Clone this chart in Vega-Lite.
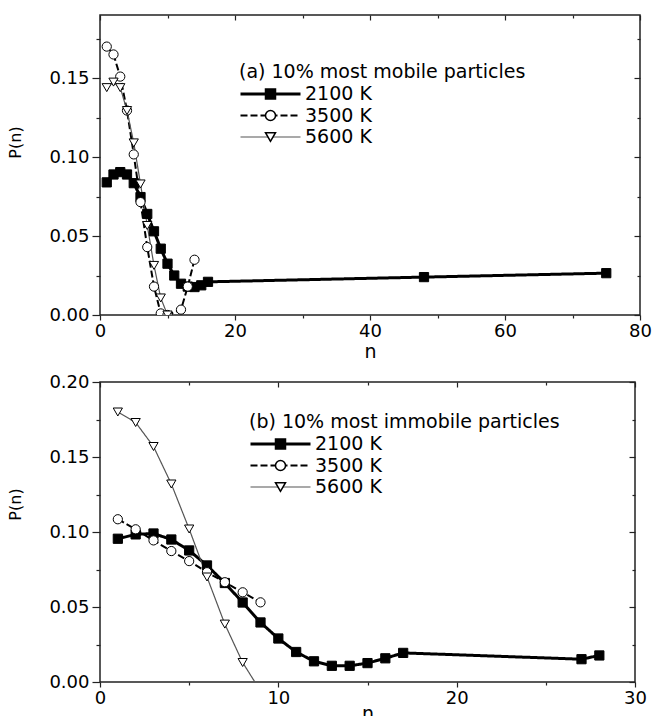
{
  "$schema": "https://vega.github.io/schema/vega-lite/v6.json",
  "padding": {"left": 6, "top": 13, "right": 5, "bottom": 0},
  "background": "white",
  "spacing": 10,
  "config": {
    "view": {"stroke": "#222", "strokeWidth": 1.5},
    "axis": {"labelFont": "DejaVu Sans", "labelFontSize": 18, "labelColor": "black", "tickColor": "#222", "tickWidth": 1.2, "grid": false, "domain": false, "labelFlush": false, "labelOverlap": false, "titleFont": "DejaVu Sans", "titleFontWeight": "normal", "titleColor": "black"},
    "legend": {"labelFont": "DejaVu Sans", "labelFontSize": 19, "labelColor": "black", "titleFont": "DejaVu Sans", "titleFontSize": 19, "titleFontWeight": "normal", "titleColor": "black", "titleLimit": 1000, "labelLimit": 1000, "padding": 0, "titlePadding": 2, "clipHeight": 20, "rowPadding": 1.5}
  },
  "resolve": {
    "scale": {"color": "independent", "fill": "independent", "shape": "independent", "strokeDash": "independent", "strokeWidth": "independent"},
    "legend": {"color": "independent", "fill": "independent", "shape": "independent", "strokeDash": "independent", "strokeWidth": "independent"}
  },
  "vconcat": [
    {
      "width": 540,
      "height": 300,
      "data": {"values": [
        {"n": 1, "P": 0.084, "T": "2100 K"}, {"n": 2, "P": 0.089, "T": "2100 K"}, {"n": 3, "P": 0.0905, "T": "2100 K"}, {"n": 4, "P": 0.089, "T": "2100 K"}, {"n": 5, "P": 0.0835, "T": "2100 K"}, {"n": 6, "P": 0.0747, "T": "2100 K"}, {"n": 7, "P": 0.064, "T": "2100 K"}, {"n": 8, "P": 0.053, "T": "2100 K"}, {"n": 9, "P": 0.042, "T": "2100 K"}, {"n": 10, "P": 0.0325, "T": "2100 K"}, {"n": 11, "P": 0.025, "T": "2100 K"}, {"n": 12, "P": 0.0198, "T": "2100 K"}, {"n": 13, "P": 0.018, "T": "2100 K"}, {"n": 14, "P": 0.0177, "T": "2100 K"}, {"n": 15, "P": 0.0188, "T": "2100 K"}, {"n": 16, "P": 0.021, "T": "2100 K"}, {"n": 48, "P": 0.024, "T": "2100 K"}, {"n": 75, "P": 0.0265, "T": "2100 K"},
        {"n": 1, "P": 0.170, "T": "3500 K"}, {"n": 2, "P": 0.165, "T": "3500 K"}, {"n": 3, "P": 0.151, "T": "3500 K"}, {"n": 4, "P": 0.1295, "T": "3500 K"}, {"n": 5, "P": 0.1017, "T": "3500 K"}, {"n": 6, "P": 0.0715, "T": "3500 K"}, {"n": 7, "P": 0.043, "T": "3500 K"}, {"n": 8, "P": 0.018, "T": "3500 K"}, {"n": 9, "P": 0.001, "T": "3500 K"}, {"n": 10, "P": 0.0, "T": "3500 K"}, {"n": 12, "P": 0.0034, "T": "3500 K"}, {"n": 13, "P": 0.018, "T": "3500 K"}, {"n": 14, "P": 0.035, "T": "3500 K"},
        {"n": 1, "P": 0.144, "T": "5600 K"}, {"n": 2, "P": 0.1475, "T": "5600 K"}, {"n": 3, "P": 0.144, "T": "5600 K"}, {"n": 4, "P": 0.1295, "T": "5600 K"}, {"n": 5, "P": 0.109, "T": "5600 K"}, {"n": 6, "P": 0.083, "T": "5600 K"}, {"n": 7, "P": 0.0567, "T": "5600 K"}, {"n": 8, "P": 0.0314, "T": "5600 K"}, {"n": 9, "P": 0.0108, "T": "5600 K"}, {"n": 10, "P": 0.0, "T": "5600 K"}
      ]},
      "layer": [
        {
          "mark": {"type": "line", "clip": true},
          "encoding": {
            "x": {"field": "n", "type": "quantitative", "scale": {"domain": [0, 80], "nice": false, "zero": false},
              "axis": {"orient": "bottom", "values": [0, 10, 20, 30, 40, 50, 60, 70, 80], "labelExpr": "datum.value % 20 === 0 ? datum.label : ''", "tickSize": {"condition": {"test": "datum.value % 20 === 0", "value": 5}, "value": 3}, "labelPadding": 2, "title": "n", "titleFontSize": 19, "titlePadding": 2}},
            "y": {"field": "P", "type": "quantitative", "scale": {"domain": [0, 0.19], "nice": false},
              "axis": {"orient": "left", "values": [0, 0.025, 0.05, 0.075, 0.1, 0.125, 0.15, 0.175], "labelExpr": "round(datum.value*1000) % 50 === 0 ? format(datum.value, '.2f') : ''", "tickSize": {"condition": {"test": "round(datum.value*1000) % 50 === 0", "value": 8}, "value": 4}, "labelPadding": 3, "title": "P(n)", "titleFontSize": 16, "titleX": -77, "titleY": 127}},
            "color": {"field": "T", "type": "nominal", "scale": {"range": ["#000000", "#000000", "#555555"]},
              "legend": {"title": "(a) 10% most mobile particles", "orient": "none", "legendX": 139, "legendY": 48, "symbolType": "stroke", "symbolSize": 3600, "labelOffset": 3}},
            "strokeWidth": {"field": "T", "type": "nominal", "scale": {"type": "ordinal", "range": [3, 2, 1.2]},
              "legend": {"title": "(a) 10% most mobile particles", "orient": "none", "legendX": 139, "legendY": 48, "symbolType": "stroke", "symbolSize": 3600, "labelOffset": 3}},
            "strokeDash": {"field": "T", "type": "nominal", "scale": {"range": [[1, 0], [7, 3], [1, 0]]},
              "legend": {"title": "(a) 10% most mobile particles", "orient": "none", "legendX": 139, "legendY": 48, "symbolType": "stroke", "symbolSize": 3600, "labelOffset": 3}}
          }
        },
        {
          "mark": {"type": "point", "filled": true, "stroke": "black", "strokeWidth": 1, "opacity": 1, "size": 85, "clip": true},
          "encoding": {
            "x": {"field": "n", "type": "quantitative",
              "axis": {"orient": "top", "values": [0, 10, 20, 30, 40, 50, 60, 70, 80], "labels": false, "title": null, "tickSize": {"condition": {"test": "datum.value % 20 === 0", "value": -5}, "value": -3}}},
            "y": {"field": "P", "type": "quantitative",
              "axis": {"orient": "right", "values": [0, 0.025, 0.05, 0.075, 0.1, 0.125, 0.15, 0.175], "labels": false, "title": null, "tickSize": {"condition": {"test": "round(datum.value*1000) % 50 === 0", "value": -6}, "value": -3}}},
            "shape": {"field": "T", "type": "nominal", "scale": {"domain": ["2100 K", "3500 K", "5600 K"], "range": ["square", "circle", "triangle-down"]},
              "legend": {"title": null, "orient": "none", "legendX": 161, "legendY": 69, "symbolSize": 100, "labelExpr": "''", "labelOffset": 3, "encode": {"symbols": {"update": {"stroke": {"value": "black"}, "strokeWidth": {"value": 1}, "opacity": {"value": 1}}}}}},
            "fill": {"field": "T", "type": "nominal", "scale": {"domain": ["2100 K", "3500 K", "5600 K"], "range": ["#000000", "#ffffff", "#ffffff"]},
              "legend": {"title": null, "orient": "none", "legendX": 161, "legendY": 69, "symbolSize": 100, "labelExpr": "''", "labelOffset": 3, "encode": {"symbols": {"update": {"stroke": {"value": "black"}, "strokeWidth": {"value": 1}, "opacity": {"value": 1}}}}}}
          }
        }
      ]
    },
    {
      "width": 535,
      "height": 300,
      "data": {"values": [
        {"n": 1, "P": 0.0955, "T": "2100 K"}, {"n": 2, "P": 0.0984, "T": "2100 K"}, {"n": 3, "P": 0.099, "T": "2100 K"}, {"n": 4, "P": 0.095, "T": "2100 K"}, {"n": 5, "P": 0.0877, "T": "2100 K"}, {"n": 6, "P": 0.0777, "T": "2100 K"}, {"n": 7, "P": 0.066, "T": "2100 K"}, {"n": 8, "P": 0.053, "T": "2100 K"}, {"n": 9, "P": 0.0397, "T": "2100 K"}, {"n": 10, "P": 0.029, "T": "2100 K"}, {"n": 11, "P": 0.02, "T": "2100 K"}, {"n": 12, "P": 0.0138, "T": "2100 K"}, {"n": 13, "P": 0.0108, "T": "2100 K"}, {"n": 14, "P": 0.0108, "T": "2100 K"}, {"n": 15, "P": 0.0126, "T": "2100 K"}, {"n": 16, "P": 0.0158, "T": "2100 K"}, {"n": 17, "P": 0.0194, "T": "2100 K"}, {"n": 27, "P": 0.0152, "T": "2100 K"}, {"n": 28, "P": 0.0177, "T": "2100 K"},
        {"n": 1, "P": 0.1085, "T": "3500 K"}, {"n": 2, "P": 0.1018, "T": "3500 K"}, {"n": 3, "P": 0.0944, "T": "3500 K"}, {"n": 4, "P": 0.0873, "T": "3500 K"}, {"n": 5, "P": 0.0806, "T": "3500 K"}, {"n": 6, "P": 0.0732, "T": "3500 K"}, {"n": 7, "P": 0.0665, "T": "3500 K"}, {"n": 8, "P": 0.0598, "T": "3500 K"}, {"n": 9, "P": 0.0531, "T": "3500 K"},
        {"n": 1, "P": 0.180, "T": "5600 K"}, {"n": 2, "P": 0.173, "T": "5600 K"}, {"n": 3, "P": 0.157, "T": "5600 K"}, {"n": 4, "P": 0.132, "T": "5600 K"}, {"n": 5, "P": 0.102, "T": "5600 K"}, {"n": 6, "P": 0.070, "T": "5600 K"}, {"n": 7, "P": 0.0386, "T": "5600 K"}, {"n": 8, "P": 0.013, "T": "5600 K"}, {"n": 9, "P": -0.006, "T": "5600 K"}
      ]},
      "layer": [
        {
          "mark": {"type": "line", "clip": true},
          "encoding": {
            "x": {"field": "n", "type": "quantitative", "scale": {"domain": [0, 30], "nice": false, "zero": false},
              "axis": {"orient": "bottom", "values": [0, 5, 10, 15, 20, 25, 30], "labelExpr": "datum.value % 10 === 0 ? datum.label : ''", "tickSize": {"condition": {"test": "datum.value % 10 === 0", "value": 5}, "value": 3}, "labelPadding": 2, "title": "n", "titleFontSize": 19, "titlePadding": -3}},
            "y": {"field": "P", "type": "quantitative", "scale": {"domain": [0, 0.2], "nice": false},
              "axis": {"orient": "left", "values": [0, 0.025, 0.05, 0.075, 0.1, 0.125, 0.15, 0.175, 0.2], "labelExpr": "round(datum.value*1000) % 50 === 0 ? format(datum.value, '.2f') : ''", "tickSize": {"condition": {"test": "round(datum.value*1000) % 50 === 0", "value": 8}, "value": 4}, "labelPadding": 3, "title": "P(n)", "titleFontSize": 16, "titleX": -77, "titleY": 122}},
            "color": {"field": "T", "type": "nominal", "scale": {"range": ["#000000", "#000000", "#555555"]},
              "legend": {"title": "(b) 10% most immobile particles", "orient": "none", "legendX": 149, "legendY": 31, "symbolType": "stroke", "symbolSize": 3600, "labelOffset": 3}},
            "strokeWidth": {"field": "T", "type": "nominal", "scale": {"type": "ordinal", "range": [3, 2, 1.2]},
              "legend": {"title": "(b) 10% most immobile particles", "orient": "none", "legendX": 149, "legendY": 31, "symbolType": "stroke", "symbolSize": 3600, "labelOffset": 3}},
            "strokeDash": {"field": "T", "type": "nominal", "scale": {"range": [[1, 0], [7, 3], [1, 0]]},
              "legend": {"title": "(b) 10% most immobile particles", "orient": "none", "legendX": 149, "legendY": 31, "symbolType": "stroke", "symbolSize": 3600, "labelOffset": 3}}
          }
        },
        {
          "mark": {"type": "point", "filled": true, "stroke": "black", "strokeWidth": 1, "opacity": 1, "size": 85, "clip": true},
          "encoding": {
            "x": {"field": "n", "type": "quantitative",
              "axis": {"orient": "top", "values": [0, 5, 10, 15, 20, 25, 30], "labels": false, "title": null, "tickSize": {"condition": {"test": "datum.value % 10 === 0", "value": -5}, "value": -3}}},
            "y": {"field": "P", "type": "quantitative",
              "axis": {"orient": "right", "values": [0, 0.025, 0.05, 0.075, 0.1, 0.125, 0.15, 0.175, 0.2], "labels": false, "title": null, "tickSize": {"condition": {"test": "round(datum.value*1000) % 50 === 0", "value": -6}, "value": -3}}},
            "shape": {"field": "T", "type": "nominal", "scale": {"domain": ["2100 K", "3500 K", "5600 K"], "range": ["square", "circle", "triangle-down"]},
              "legend": {"title": null, "orient": "none", "legendX": 171, "legendY": 52, "symbolSize": 100, "labelExpr": "''", "labelOffset": 3, "encode": {"symbols": {"update": {"stroke": {"value": "black"}, "strokeWidth": {"value": 1}, "opacity": {"value": 1}}}}}},
            "fill": {"field": "T", "type": "nominal", "scale": {"domain": ["2100 K", "3500 K", "5600 K"], "range": ["#000000", "#ffffff", "#ffffff"]},
              "legend": {"title": null, "orient": "none", "legendX": 171, "legendY": 52, "symbolSize": 100, "labelExpr": "''", "labelOffset": 3, "encode": {"symbols": {"update": {"stroke": {"value": "black"}, "strokeWidth": {"value": 1}, "opacity": {"value": 1}}}}}}
          }
        }
      ]
    }
  ]
}
